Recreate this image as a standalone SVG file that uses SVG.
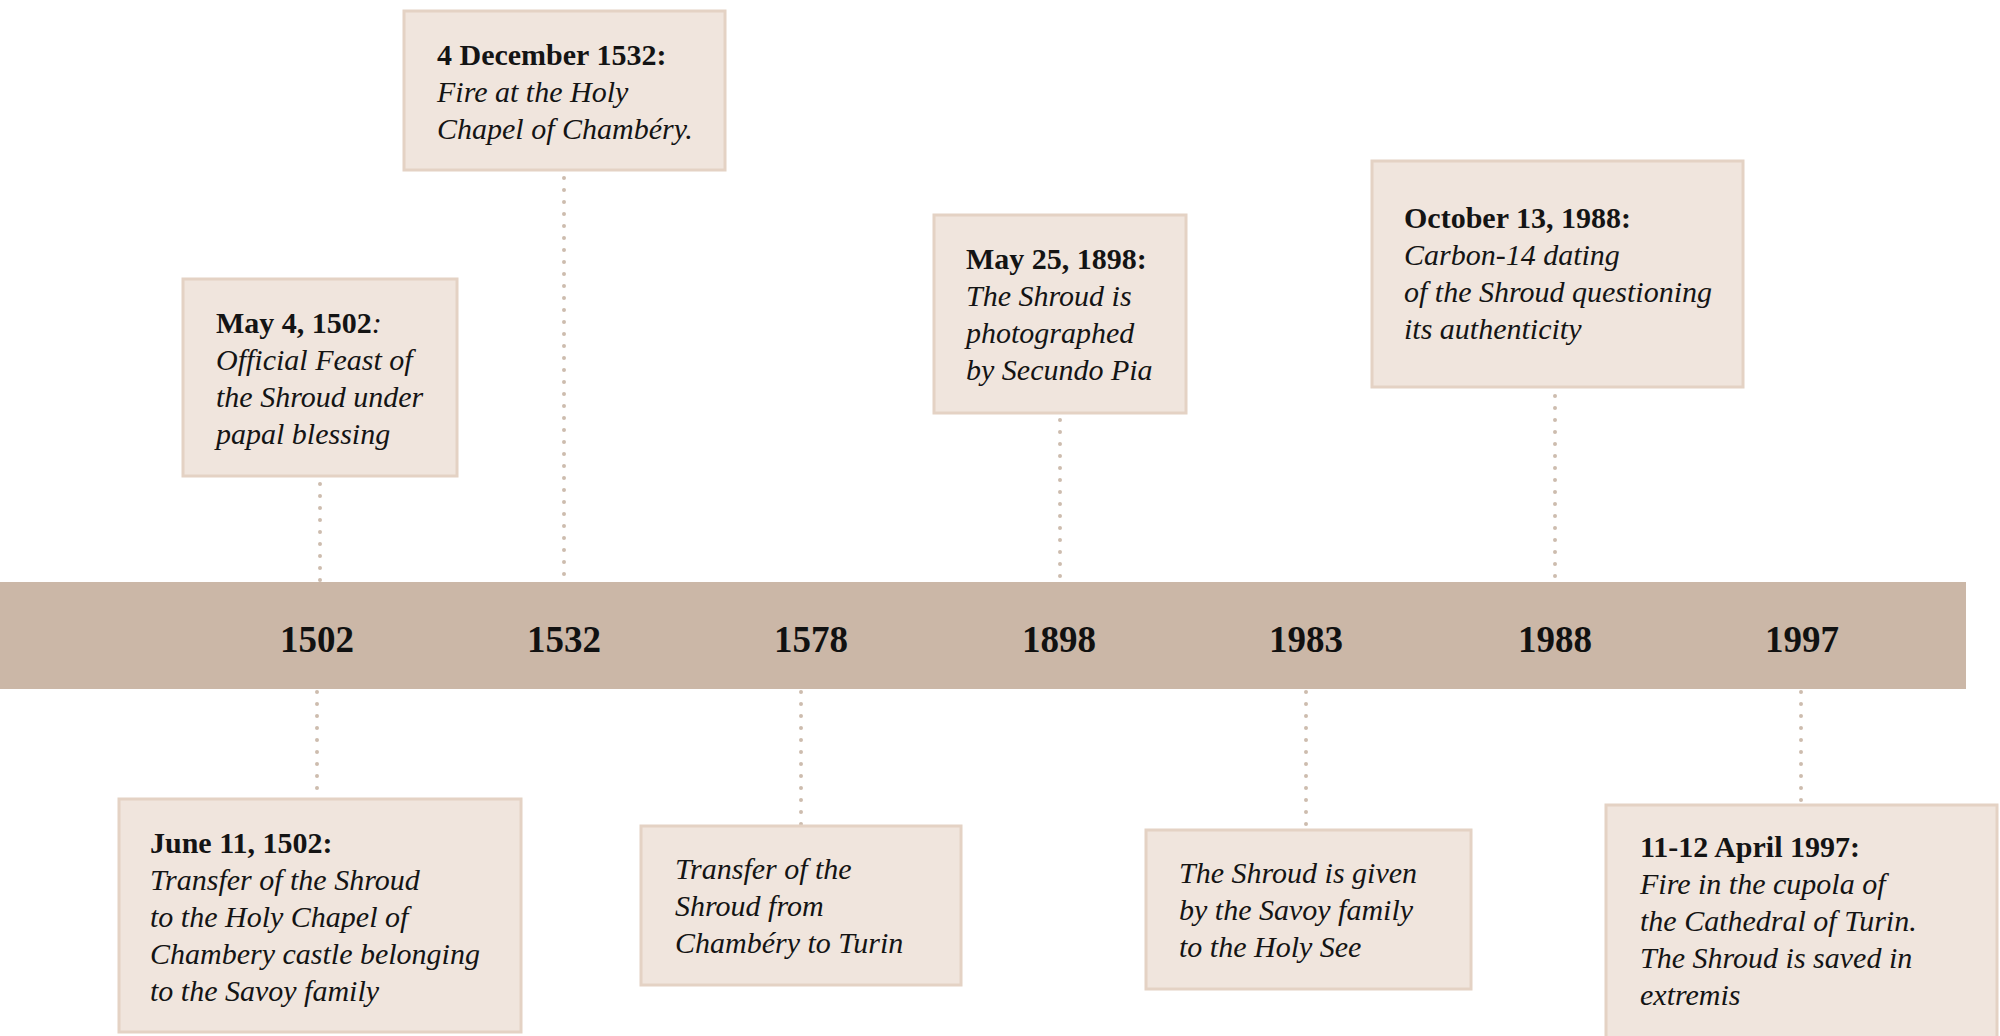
<svg xmlns="http://www.w3.org/2000/svg" width="2000" height="1036" viewBox="0 0 2000 1036">
<style>
.box{fill:#f0e5dd;stroke:#e4d2c4;stroke-width:3}
.conn{stroke:#cdbcae;stroke-width:4;stroke-linecap:round;stroke-dasharray:0 12;fill:none}
.t{font-family:"Liberation Serif","DejaVu Serif",serif;font-size:30px;fill:#141414;font-style:italic}
.b{font-weight:bold;font-style:normal}
.yr{font-family:"Liberation Serif","DejaVu Serif",serif;font-size:37px;font-weight:bold;fill:#111;text-anchor:middle}
</style>
<rect width="2000" height="1036" fill="#ffffff"/>
<g id="timeline">
<rect x="0" y="582" width="1966" height="107" fill="#cbb7a7"/>
<text class="yr" x="317" y="652">1502</text>
<text class="yr" x="564" y="652">1532</text>
<text class="yr" x="811" y="652">1578</text>
<text class="yr" x="1059" y="652">1898</text>
<text class="yr" x="1306" y="652">1983</text>
<text class="yr" x="1555" y="652">1988</text>
<text class="yr" x="1802" y="652">1997</text>
</g>
<g id="connectors">
<line class="conn" x1="320" y1="484" x2="320" y2="582"/>
<line class="conn" x1="564" y1="178" x2="564" y2="582"/>
<line class="conn" x1="1060" y1="420" x2="1060" y2="582"/>
<line class="conn" x1="1555" y1="396" x2="1555" y2="582"/>
<line class="conn" x1="317" y1="692" x2="317" y2="798"/>
<line class="conn" x1="801" y1="692" x2="801" y2="826"/>
<line class="conn" x1="1306" y1="692" x2="1306" y2="830"/>
<line class="conn" x1="1801" y1="692" x2="1801" y2="804"/>
</g>
<g id="n1532a">
<rect class="box" x="404" y="11" width="321" height="159"/>
<text class="t" x="437"><tspan class="b" x="437" y="65">4 December 1532:</tspan><tspan x="437" y="102">Fire at the Holy</tspan><tspan x="437" y="139">Chapel of Chambéry.</tspan></text>
</g>
<g id="n1502a">
<rect class="box" x="183" y="279" width="274" height="197"/>
<text class="t" x="216"><tspan x="216" y="333"><tspan class="b">May 4, 1502</tspan>:</tspan><tspan x="216" y="370">Official Feast of</tspan><tspan x="216" y="407">the Shroud under</tspan><tspan x="216" y="444">papal blessing</tspan></text>
</g>
<g id="n1898a">
<rect class="box" x="934" y="215" width="252" height="198"/>
<text class="t" x="966"><tspan class="b" x="966" y="269">May 25, 1898:</tspan><tspan x="966" y="306">The Shroud is</tspan><tspan x="966" y="343">photographed</tspan><tspan x="966" y="380">by Secundo Pia</tspan></text>
</g>
<g id="n1988a">
<rect class="box" x="1372" y="161" width="371" height="226"/>
<text class="t" x="1404"><tspan class="b" x="1404" y="228">October 13, 1988:</tspan><tspan x="1404" y="265">Carbon-14 dating</tspan><tspan x="1404" y="302">of the Shroud questioning</tspan><tspan x="1404" y="339">its authenticity</tspan></text>
</g>
<g id="n1502b">
<rect class="box" x="119" y="799" width="402" height="233"/>
<text class="t" x="150"><tspan class="b" x="150" y="853">June 11, 1502:</tspan><tspan x="150" y="890">Transfer of the Shroud</tspan><tspan x="150" y="927">to the Holy Chapel of</tspan><tspan x="150" y="964">Chambery castle belonging</tspan><tspan x="150" y="1001">to the Savoy family</tspan></text>
</g>
<g id="n1578b">
<rect class="box" x="641" y="826" width="320" height="159"/>
<text class="t" x="675"><tspan x="675" y="879">Transfer of the</tspan><tspan x="675" y="916">Shroud from</tspan><tspan x="675" y="953">Chambéry to Turin</tspan></text>
</g>
<g id="n1983b">
<rect class="box" x="1146" y="830" width="325" height="159"/>
<text class="t" x="1179"><tspan x="1179" y="883">The Shroud is given</tspan><tspan x="1179" y="920">by the Savoy family</tspan><tspan x="1179" y="957">to the Holy See</tspan></text>
</g>
<g id="n1997b">
<rect class="box" x="1606" y="805" width="391" height="240"/>
<text class="t" x="1640"><tspan class="b" x="1640" y="857">11-12 April 1997:</tspan><tspan x="1640" y="894">Fire in the cupola of</tspan><tspan x="1640" y="931">the Cathedral of Turin.</tspan><tspan x="1640" y="968">The Shroud is saved in</tspan><tspan x="1640" y="1005">extremis</tspan></text>
</g>
</svg>
